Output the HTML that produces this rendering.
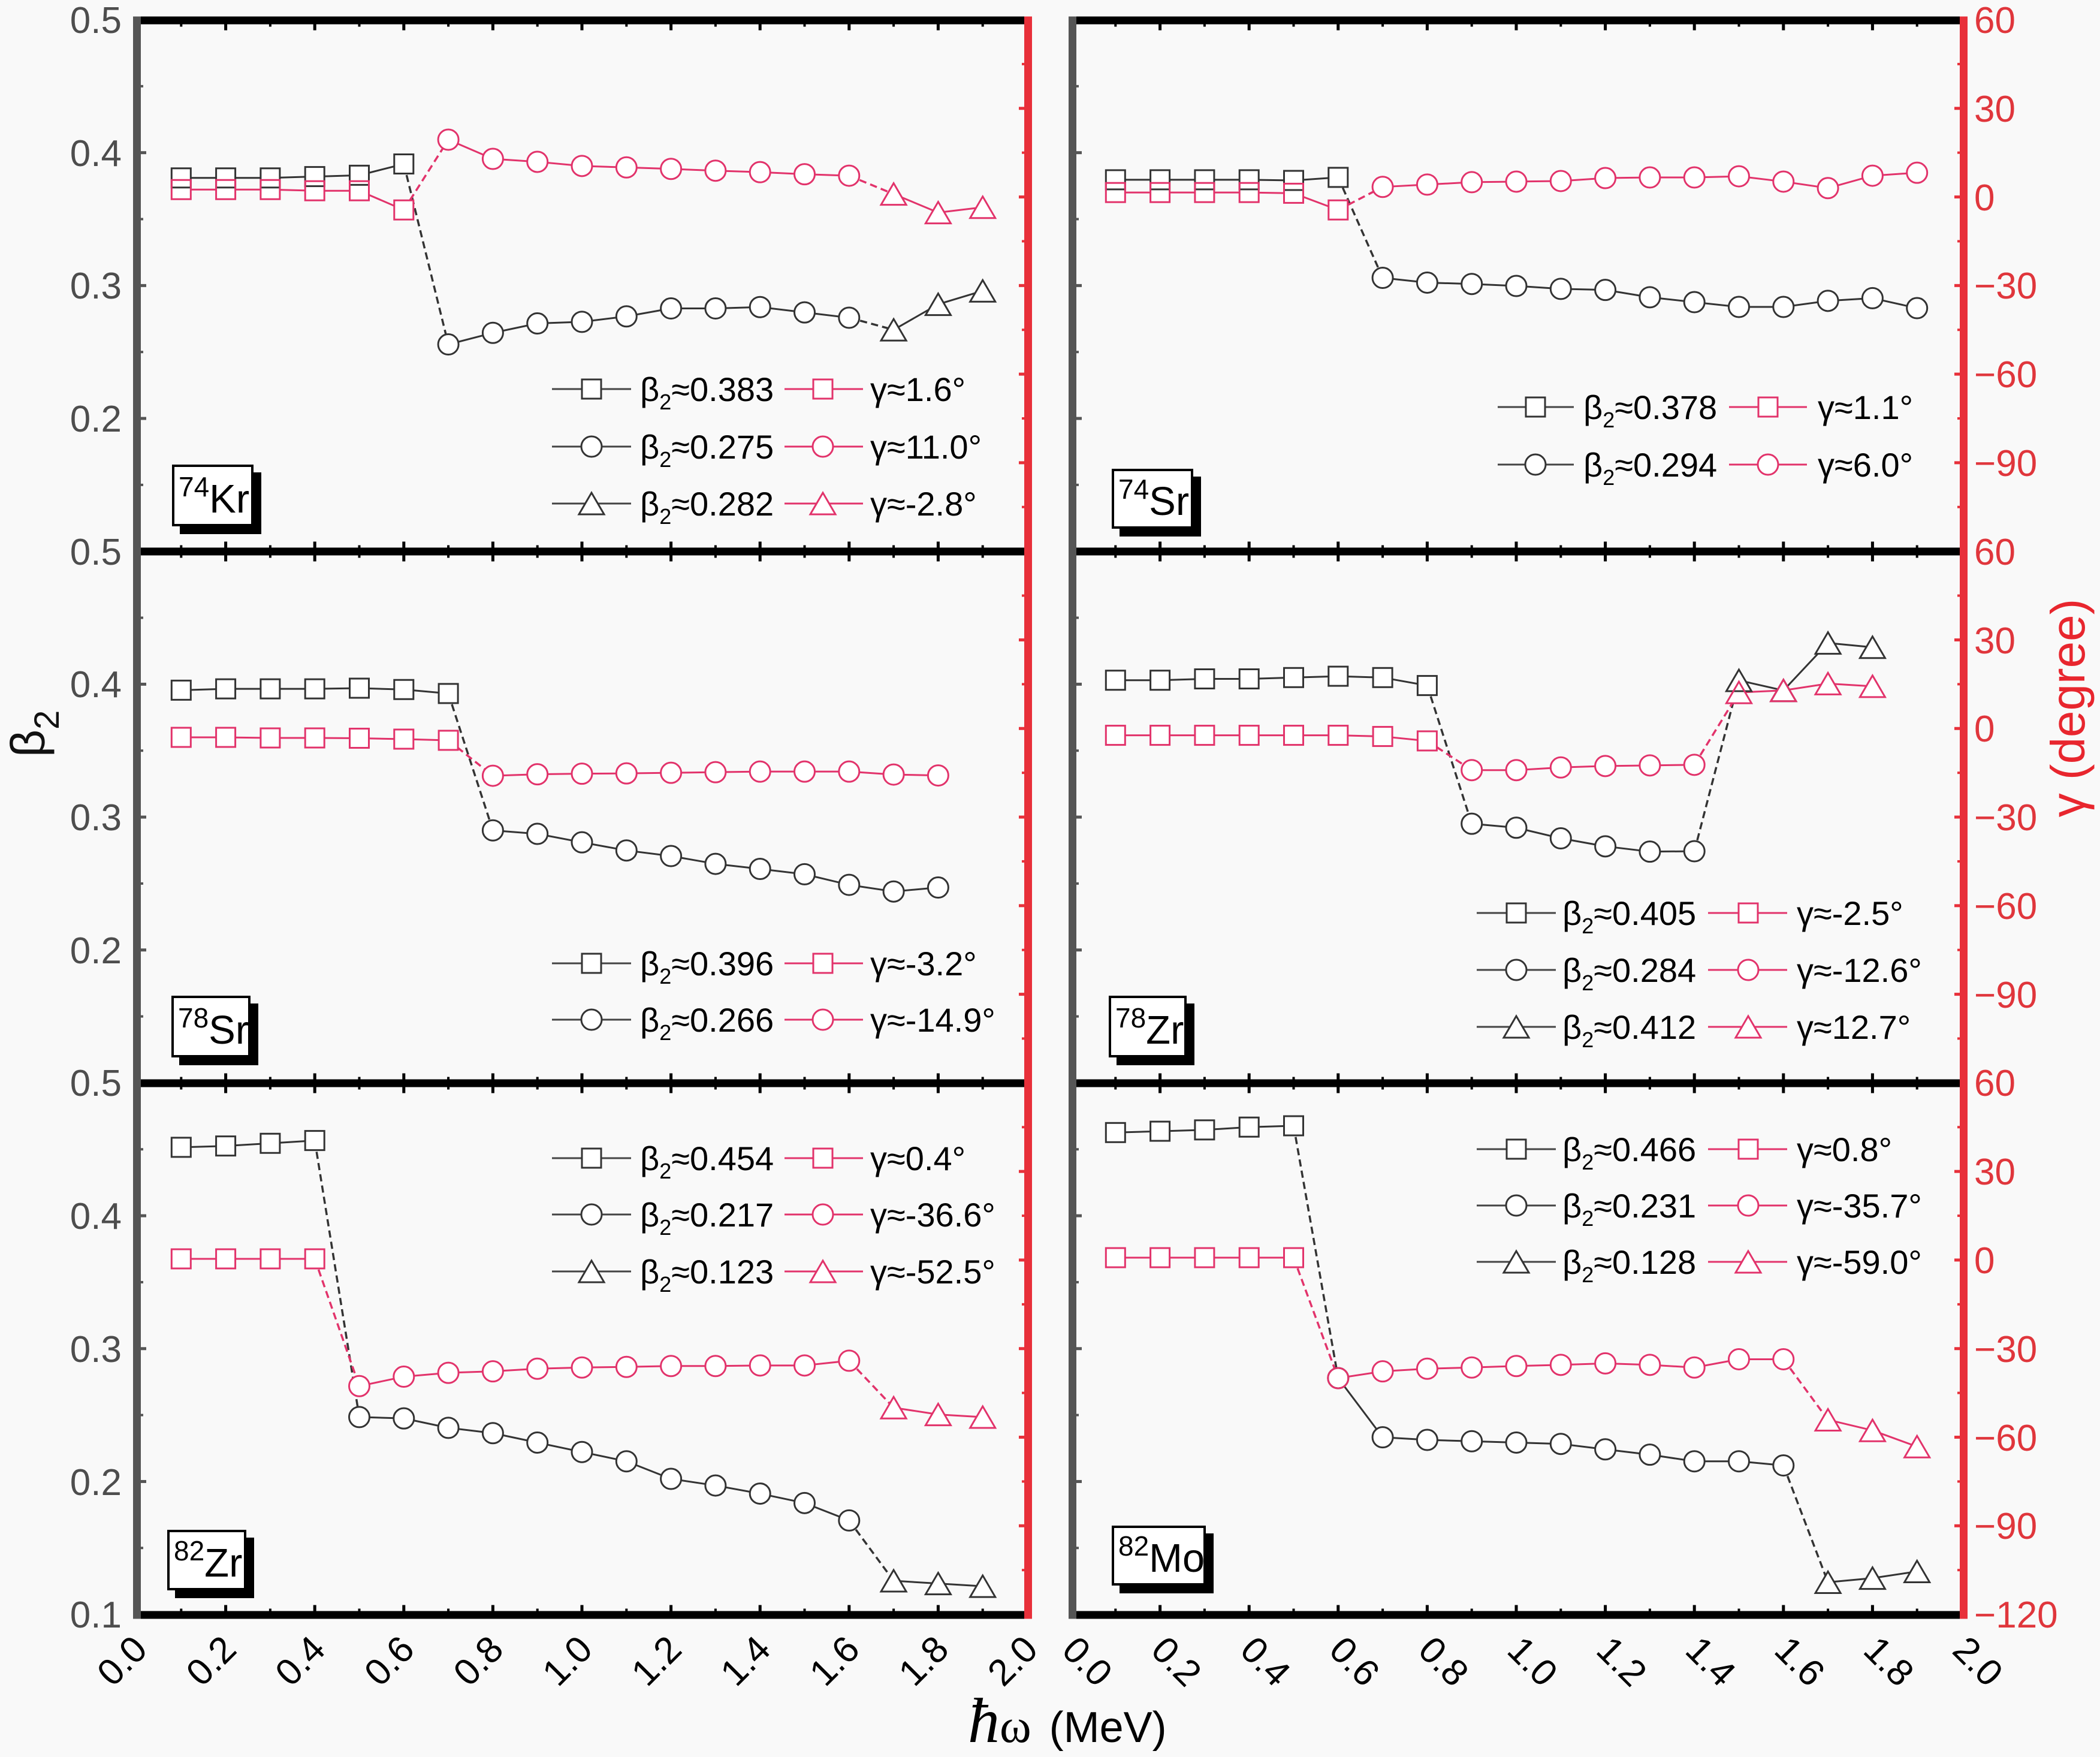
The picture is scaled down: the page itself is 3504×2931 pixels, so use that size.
<!DOCTYPE html>
<html><head><meta charset="utf-8">
<style>
html,body{margin:0;padding:0;background:#f9f9f9;}
svg{display:block;}
text{font-family:"Liberation Sans",Arial,sans-serif;}
</style></head><body>
<svg id="s" xmlns="http://www.w3.org/2000/svg" width="3504" height="2931" viewBox="0 0 3504 2931">
<rect width="3504" height="2931" fill="#f9f9f9"/>
<g id="data"></g>
<g id="leg"></g>
<g id="ticks"></g>
<!-- horizontal axis lines -->
<g fill="#000">
<rect x="229" y="27.5" width="1487" height="13"/>
<rect x="229" y="913.5" width="1487" height="13"/>
<rect x="229" y="1800.5" width="1487" height="13"/>
<rect x="229" y="2687.5" width="1487" height="13"/>
<rect x="1789" y="27.5" width="1488" height="13"/>
<rect x="1789" y="913.5" width="1488" height="13"/>
<rect x="1789" y="1800.5" width="1488" height="13"/>
<rect x="1789" y="2687.5" width="1488" height="13"/>
</g>
<!-- vertical axis lines -->
<rect x="222" y="27.5" width="13" height="2673" fill="#555"/>
<rect x="1783" y="27.5" width="13" height="2673" fill="#555"/>
<rect x="1709" y="27.5" width="13" height="2673" fill="#e8303a"/>
<rect x="3270" y="27.5" width="13" height="2673" fill="#e8303a"/>

<!-- left tick labels -->
<g font-size="62" fill="#4d4d4d" text-anchor="end">
<text x="203" y="55">0.5</text><text x="203" y="277">0.4</text><text x="203" y="498">0.3</text><text x="203" y="720">0.2</text>
<text x="203" y="942">0.5</text><text x="203" y="1163">0.4</text><text x="203" y="1385">0.3</text><text x="203" y="1607">0.2</text>
<text x="203" y="1828">0.5</text><text x="203" y="2050">0.4</text><text x="203" y="2272">0.3</text><text x="203" y="2494">0.2</text><text x="203" y="2715">0.1</text>
</g>
<!-- right tick labels -->
<g font-size="62" fill="#e0363c">
<text x="3294" y="55">60</text><text x="3294" y="203">30</text><text x="3294" y="351">0</text><text x="3294" y="498">−30</text><text x="3294" y="646">−60</text><text x="3294" y="794">−90</text>
<text x="3294" y="942">60</text><text x="3294" y="1090">30</text><text x="3294" y="1237">0</text><text x="3294" y="1385">−30</text><text x="3294" y="1533">−60</text><text x="3294" y="1681">−90</text>
<text x="3294" y="1828">60</text><text x="3294" y="1976">30</text><text x="3294" y="2124">0</text><text x="3294" y="2272">−30</text><text x="3294" y="2420">−60</text><text x="3294" y="2567">−90</text><text x="3294" y="2715">−120</text>
</g>
<!-- x tick labels left (rotated -45) -->
<g font-size="62" fill="#000" text-anchor="end">
<text transform="translate(249,2755) rotate(-45)">0.0</text>
<text transform="translate(397.6,2755) rotate(-45)">0.2</text>
<text transform="translate(546.2,2755) rotate(-45)">0.4</text>
<text transform="translate(694.8,2755) rotate(-45)">0.6</text>
<text transform="translate(843.4,2755) rotate(-45)">0.8</text>
<text transform="translate(992,2755) rotate(-45)">1.0</text>
<text transform="translate(1140.6,2755) rotate(-45)">1.2</text>
<text transform="translate(1289.2,2755) rotate(-45)">1.4</text>
<text transform="translate(1437.8,2755) rotate(-45)">1.6</text>
<text transform="translate(1586.4,2755) rotate(-45)">1.8</text>
<text transform="translate(1735,2755) rotate(-45)">2.0</text>
</g>
<!-- x tick labels right (rotated +45) -->
<g font-size="62" fill="#000">
<text transform="translate(1769,2756) rotate(45)">0.0</text>
<text transform="translate(1917.6,2756) rotate(45)">0.2</text>
<text transform="translate(2066.2,2756) rotate(45)">0.4</text>
<text transform="translate(2214.8,2756) rotate(45)">0.6</text>
<text transform="translate(2363.4,2756) rotate(45)">0.8</text>
<text transform="translate(2512,2756) rotate(45)">1.0</text>
<text transform="translate(2660.6,2756) rotate(45)">1.2</text>
<text transform="translate(2809.2,2756) rotate(45)">1.4</text>
<text transform="translate(2957.8,2756) rotate(45)">1.6</text>
<text transform="translate(3106.4,2756) rotate(45)">1.8</text>
<text transform="translate(3255,2756) rotate(45)">2.0</text>
</g>

<!-- axis titles -->
<text transform="translate(74,1263) rotate(-90)" font-size="80" fill="#111">β<tspan font-size="58" dy="24">2</tspan></text>
<text transform="translate(3478,1181) rotate(-90)" text-anchor="middle" font-size="80" fill="#e8262e">γ (degree)</text>
<text x="1615" y="2906" font-size="72" fill="#000"><tspan font-family="Liberation Serif" font-style="italic" font-size="106">ħ</tspan><tspan font-family="Liberation Serif" font-size="80">ω</tspan><tspan dx="30">(MeV)</tspan></text>

<!-- nucleus label boxes -->
<g>
<rect x="300" y="788" width="136" height="103" fill="#000"/>
<rect x="289" y="777" width="132" height="99" fill="#fff" stroke="#000" stroke-width="4"/>
<text x="298" y="855" font-size="67" fill="#000"><tspan font-size="46" dy="-27">74</tspan><tspan dy="27">Kr</tspan></text>

<rect x="1868" y="795" width="136" height="100" fill="#000"/>
<rect x="1857" y="784" width="132" height="96" fill="#fff" stroke="#000" stroke-width="4"/>
<text x="1866" y="859" font-size="67" fill="#000"><tspan font-size="46" dy="-27">74</tspan><tspan dy="27">Sr</tspan></text>

<rect x="299" y="1674" width="132" height="103" fill="#000"/>
<rect x="288" y="1663" width="128" height="99" fill="#fff" stroke="#000" stroke-width="4"/>
<text x="297" y="1741" font-size="67" fill="#000"><tspan font-size="46" dy="-27">78</tspan><tspan dy="27">Sr</tspan></text>

<rect x="1863" y="1674" width="130" height="103" fill="#000"/>
<rect x="1852" y="1663" width="126" height="99" fill="#fff" stroke="#000" stroke-width="4"/>
<text x="1861" y="1741" font-size="67" fill="#000"><tspan font-size="46" dy="-27">78</tspan><tspan dy="27">Zr</tspan></text>

<rect x="292" y="2565" width="132" height="101" fill="#000"/>
<rect x="281" y="2554" width="128" height="97" fill="#fff" stroke="#000" stroke-width="4"/>
<text x="290" y="2630" font-size="67" fill="#000"><tspan font-size="46" dy="-27">82</tspan><tspan dy="27">Zr</tspan></text>

<rect x="1868" y="2558" width="157" height="100" fill="#000"/>
<rect x="1857" y="2547" width="153" height="96" fill="#fff" stroke="#000" stroke-width="4"/>
<text x="1866" y="2622" font-size="67" fill="#000"><tspan font-size="46" dy="-27">82</tspan><tspan dy="27">Mo</tspan></text>
</g>

<!-- legend texts -->
<g font-size="56" fill="#000">
<text x="1068" y="669">β<tspan font-size="36" dy="14">2</tspan><tspan dy="-14">≈0.383</tspan></text>
<text x="1452" y="669">γ≈1.6°</text>
<text x="1068" y="765">β<tspan font-size="36" dy="14">2</tspan><tspan dy="-14">≈0.275</tspan></text>
<text x="1452" y="765">γ≈11.0°</text>
<text x="1068" y="860">β<tspan font-size="36" dy="14">2</tspan><tspan dy="-14">≈0.282</tspan></text>
<text x="1452" y="860">γ≈-2.8°</text>

<text x="2642" y="699">β<tspan font-size="36" dy="14">2</tspan><tspan dy="-14">≈0.378</tspan></text>
<text x="3033" y="699">γ≈1.1°</text>
<text x="2642" y="795">β<tspan font-size="36" dy="14">2</tspan><tspan dy="-14">≈0.294</tspan></text>
<text x="3033" y="795">γ≈6.0°</text>

<text x="1068" y="1627">β<tspan font-size="36" dy="14">2</tspan><tspan dy="-14">≈0.396</tspan></text>
<text x="1452" y="1627">γ≈-3.2°</text>
<text x="1068" y="1721">β<tspan font-size="36" dy="14">2</tspan><tspan dy="-14">≈0.266</tspan></text>
<text x="1452" y="1721">γ≈-14.9°</text>

<text x="2607" y="1543">β<tspan font-size="36" dy="14">2</tspan><tspan dy="-14">≈0.405</tspan></text>
<text x="2998" y="1543">γ≈-2.5°</text>
<text x="2607" y="1638">β<tspan font-size="36" dy="14">2</tspan><tspan dy="-14">≈0.284</tspan></text>
<text x="2998" y="1638">γ≈-12.6°</text>
<text x="2607" y="1733">β<tspan font-size="36" dy="14">2</tspan><tspan dy="-14">≈0.412</tspan></text>
<text x="2998" y="1733">γ≈12.7°</text>

<text x="1068" y="1952">β<tspan font-size="36" dy="14">2</tspan><tspan dy="-14">≈0.454</tspan></text>
<text x="1452" y="1952">γ≈0.4°</text>
<text x="1068" y="2046">β<tspan font-size="36" dy="14">2</tspan><tspan dy="-14">≈0.217</tspan></text>
<text x="1452" y="2046">γ≈-36.6°</text>
<text x="1068" y="2141">β<tspan font-size="36" dy="14">2</tspan><tspan dy="-14">≈0.123</tspan></text>
<text x="1452" y="2141">γ≈-52.5°</text>

<text x="2607" y="1937">β<tspan font-size="36" dy="14">2</tspan><tspan dy="-14">≈0.466</tspan></text>
<text x="2998" y="1937">γ≈0.8°</text>
<text x="2607" y="2031">β<tspan font-size="36" dy="14">2</tspan><tspan dy="-14">≈0.231</tspan></text>
<text x="2998" y="2031">γ≈-35.7°</text>
<text x="2607" y="2125">β<tspan font-size="36" dy="14">2</tspan><tspan dy="-14">≈0.128</tspan></text>
<text x="2998" y="2125">γ≈-59.0°</text>
</g>
</svg>
<script>
(function(){
const NS="http://www.w3.org/2000/svg";
function el(tag,attrs,parent){const e=document.createElementNS(NS,tag);for(const k in attrs)e.setAttribute(k,attrs[k]);parent.appendChild(e);return e;}
const K='#333', P='#e2336b';
const YT=[33,919.7,1806.4];
const X0=[228,1787];
const XS=743;
function yb(v,r){return YT[r]+(0.5-v)*2216.75;}
function yg(g,r){return YT[r]+(60-g)*4.926;}
function marker(sh,x,y,col,g,mask){
  const a=mask?{fill:'#fff',stroke:'none'}:{fill:'none',stroke:col,'stroke-width':3,'stroke-linejoin':'miter'};
  if(sh==='s') el('rect',Object.assign({x:x-16,y:y-16,width:32,height:32},a),g);
  else if(sh==='c') el('circle',Object.assign({cx:x,cy:y,r:17},a),g);
  else el('polygon',Object.assign({points:(x)+','+(y-18)+' '+(x+21)+','+(y+18)+' '+(x-21)+','+(y+18)},a),g);
}
const panels=[
{c:0,r:0,
 b:[['s',[[.1,.381],[.2,.381],[.3,.381],[.4,.382],[.5,.383],[.6,.3915]]],
    ['c',[[.7,.2557],[.8,.2644],[.9,.2715],[1.0,.2727],[1.1,.2768],[1.2,.2828],[1.3,.2828],[1.4,.2838],[1.5,.2798],[1.6,.2758]]],
    ['t',[[1.7,.2667],[1.8,.2859],[1.9,.296]]]],
 g:[['s',[[.1,2.5],[.2,2.5],[.3,2.5],[.4,2.1],[.5,2.1],[.6,-4.4]]],
    ['c',[[.7,19.4],[.8,12.9],[.9,11.9],[1.0,10.5],[1.1,10],[1.2,9.5],[1.3,8.9],[1.4,8.4],[1.5,7.7],[1.6,7.2]]],
    ['t',[[1.7,1.0],[1.8,-5.3],[1.9,-3.5]]]]},
{c:1,r:0,
 b:[['s',[[.1,.3796],[.2,.3796],[.3,.3796],[.4,.3796],[.5,.3791],[.6,.3814]]],
    ['c',[[.7,.3058],[.8,.3022],[.9,.3012],[1.0,.2997],[1.1,.2975],[1.2,.2967],[1.3,.2912],[1.4,.2875],[1.5,.2839],[1.6,.2839],[1.7,.2885],[1.8,.2905],[1.9,.283]]]],
 g:[['s',[[.1,1.5],[.2,1.5],[.3,1.5],[.4,1.5],[.5,1.25],[.6,-4.4]]],
    ['c',[[.7,3.4],[.8,4.2],[.9,5.0],[1.0,5.2],[1.1,5.4],[1.2,6.4],[1.3,6.6],[1.4,6.6],[1.5,7.0],[1.6,5.2],[1.7,3.0],[1.8,7.2],[1.9,8.2]]]]},
{c:0,r:1,
 b:[['s',[[.1,.3955],[.2,.3965],[.3,.3965],[.4,.3965],[.5,.397],[.6,.396],[.7,.393]]],
    ['c',[[.8,.290],[.9,.2874],[1.0,.281],[1.1,.2749],[1.2,.2707],[1.3,.2648],[1.4,.261],[1.5,.257],[1.6,.249],[1.7,.244],[1.8,.247]]]],
 g:[['s',[[.1,-3.0],[.2,-3.0],[.3,-3.2],[.4,-3.2],[.5,-3.3],[.6,-3.6],[.7,-4.0]]],
    ['c',[[.8,-16],[.9,-15.5],[1.0,-15.3],[1.1,-15.2],[1.2,-15.0],[1.3,-14.8],[1.4,-14.6],[1.5,-14.6],[1.6,-14.6],[1.7,-15.6],[1.8,-15.9]]]]},
{c:1,r:1,
 b:[['s',[[.1,.403],[.2,.403],[.3,.404],[.4,.404],[.5,.405],[.6,.406],[.7,.405],[.8,.399]]],
    ['c',[[.9,.295],[1.0,.292],[1.1,.284],[1.2,.278],[1.3,.274],[1.4,.2743]]],
    ['t',[[1.5,.4029],[1.6,.3953],[1.7,.431],[1.8,.4278]]]],
 g:[['s',[[.1,-2.3],[.2,-2.3],[.3,-2.3],[.4,-2.3],[.5,-2.3],[.6,-2.3],[.7,-2.7],[.8,-4.2]]],
    ['c',[[.9,-14.1],[1.0,-14.1],[1.1,-13.2],[1.2,-12.7],[1.3,-12.5],[1.4,-12.3]]],
    ['t',[[1.5,12.2],[1.6,12.9],[1.7,15.2],[1.8,14.3]]]]},
{c:0,r:2,
 b:[['s',[[.1,.4515],[.2,.4525],[.3,.4545],[.4,.4566]]],
    ['c',[[.5,.2485],[.6,.2475],[.7,.2404],[.8,.2364],[.9,.2293],[1.0,.2222],[1.1,.2152],[1.2,.2020],[1.3,.1970],[1.4,.1909],[1.5,.1838],[1.6,.1707]]],
    ['t',[[1.7,.1253],[1.8,.1232],[1.9,.1212]]]],
 g:[['s',[[.1,0.4],[.2,0.4],[.3,0.4],[.4,0.4]]],
    ['c',[[.5,-42.7],[.6,-39.5],[.7,-38.2],[.8,-37.7],[.9,-36.8],[1.0,-36.4],[1.1,-36.2],[1.2,-35.9],[1.3,-35.9],[1.4,-35.7],[1.5,-35.7],[1.6,-34.1]]],
    ['t',[[1.7,-50.0],[1.8,-52.3],[1.9,-53.2]]]]},
{c:1,r:2,
 b:[['s',[[.1,.4626],[.2,.4636],[.3,.4646],[.4,.4667],[.5,.4677]]],
    ['c',[[.6,.2778],[.7,.2333],[.8,.2313],[.9,.2303],[1.0,.2293],[1.1,.2283],[1.2,.2242],[1.3,.2202],[1.4,.2152],[1.5,.2152],[1.6,.2121]]],
    ['t',[[1.7,.1242],[1.8,.1273],[1.9,.1323]]]],
 g:[['s',[[.1,0.8],[.2,0.8],[.3,0.8],[.4,0.8],[.5,0.8]]],
    ['c',[[.6,-40],[.7,-37.7],[.8,-36.8],[.9,-36.4],[1.0,-35.9],[1.1,-35.5],[1.2,-35.0],[1.3,-35.5],[1.4,-36.4],[1.5,-33.6],[1.6,-33.6]]],
    ['t',[[1.7,-54.1],[1.8,-57.7],[1.9,-63.2]]]]}
];
const dataG=document.getElementById('data');
const linesG=el('g',{},dataG), maskG=el('g',{},dataG), outK=el('g',{},dataG), outP=el('g',{},dataG);
panels.forEach(function(p){
  [['b',K],['g',P]].forEach(function(kc){
    const key=kc[0], col=kc[1];
    const groups=p[key].map(function(gr){return [gr[0],gr[1].map(function(q){return [X0[p.c]+q[0]*XS, key==='b'?yb(q[1],p.r):yg(q[1],p.r)];})];});
    groups.forEach(function(gr,gi){
      const sh=gr[0], pts=gr[1];
      if(pts.length>1) el('polyline',{points:pts.map(function(q){return q[0]+','+q[1];}).join(' '),fill:'none',stroke:col,'stroke-width':3,'stroke-linejoin':'round'},linesG);
      if(gi>0){const a=groups[gi-1][1][groups[gi-1][1].length-1], b=pts[0];
        el('line',{x1:a[0],y1:a[1],x2:b[0],y2:b[1],stroke:col,'stroke-width':3.5,'stroke-dasharray':'12 7'},linesG);}
      pts.forEach(function(q){marker(sh,q[0],q[1],col,maskG,true);marker(sh,q[0],q[1],col,key==='b'?outK:outP,false);});
    });
  });
});
// legend symbols
const legG=document.getElementById('leg');
const legends=[
 {k:[921,1053,987],p:[1309,1440,1373],rows:[[649,'s'],[745,'c'],[840,'t']]},
 {k:[2499,2626,2562],p:[2885,3015,2950],rows:[[679,'s'],[775,'c']]},
 {k:[921,1053,987],p:[1309,1440,1373],rows:[[1607,'s'],[1701,'c']]},
 {k:[2464,2596,2530],p:[2850,2982,2917],rows:[[1523,'s'],[1618,'c'],[1713,'t']]},
 {k:[921,1053,987],p:[1309,1440,1373],rows:[[1932,'s'],[2026,'c'],[2121,'t']]},
 {k:[2464,2596,2530],p:[2850,2982,2917],rows:[[1917,'s'],[2011,'c'],[2105,'t']]}
];
legends.forEach(function(L){
  L.rows.forEach(function(rw){
    const y=rw[0], sh=rw[1];
    [[L.k,'#444',K],[L.p,P,P]].forEach(function(s){
      el('line',{x1:s[0][0],y1:y,x2:s[0][1],y2:y,stroke:s[1],'stroke-width':3},legG);
      marker(sh,s[0][2],y,s[2],legG,true);
      marker(sh,s[0][2],y,s[2],legG,false);
    });
  });
});
// ticks
const tG=document.getElementById('ticks');
const HY=[34,920,1807,2694];
for(let c=0;c<2;c++){
  for(let h=0;h<4;h++){
    for(let i=1;i<20;i++){
      const x=X0[c]+i*XS*0.1, maj=(i%2===0), len=maj?10:4, w=maj?5:4;
      if(h<3) el('rect',{x:x-w/2,y:HY[h]+5,width:w,height:len+1.5,fill:'#000'},tG);
      if(h>0) el('rect',{x:x-w/2,y:HY[h]-6.5-len,width:w,height:len+1.5,fill:'#000'},tG);
    }
  }
}
const GX=[228.5,1789.5], RX=[1715.5,3276.5];
for(let c=0;c<2;c++){
  for(let r=0;r<3;r++){
    for(let k=1;k<8;k++){
      const y=YT[r]+k*110.84, maj=(k%2===0), len=maj?9:4, w=maj?5:4;
      el('rect',{x:GX[c]+5,y:y-w/2,width:len+1.5,height:w,fill:'#555'},tG);
    }
    for(let k=1;k<12;k++){
      const y=YT[r]+k*73.89, maj=(k%2===0), len=maj?9:4, w=maj?5:4;
      el('rect',{x:RX[c]-6.5-len,y:y-w/2,width:len+1.5,height:w,fill:'#e8303a'},tG);
    }
  }
}
})();
</script>
</body></html>
